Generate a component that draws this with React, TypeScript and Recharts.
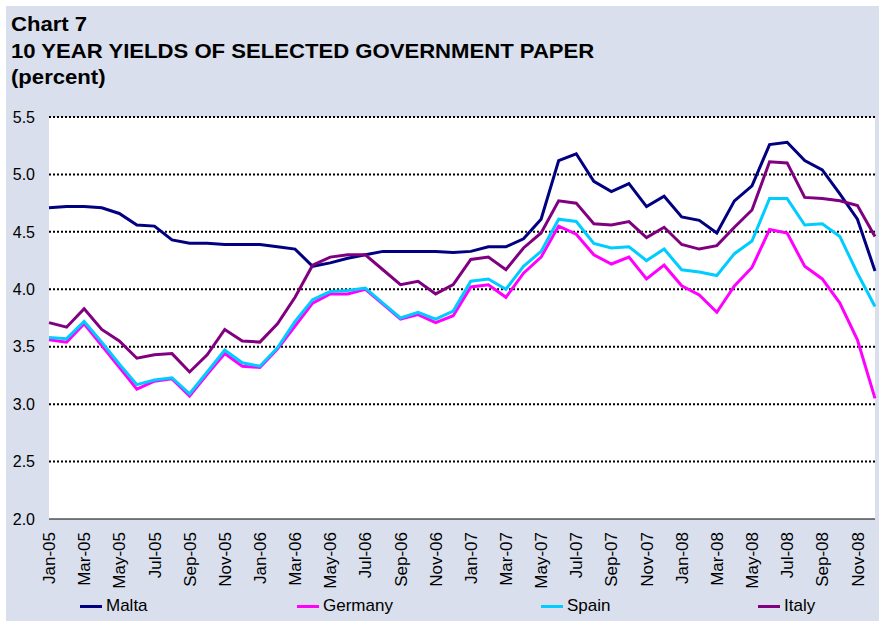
import React from 'react';
import { LineChart, Line, XAxis, YAxis, CartesianGrid } from 'recharts';

const months = [
  'Jan-05','Feb-05','Mar-05','Apr-05','May-05','Jun-05','Jul-05','Aug-05','Sep-05','Oct-05','Nov-05','Dec-05',
  'Jan-06','Feb-06','Mar-06','Apr-06','May-06','Jun-06','Jul-06','Aug-06','Sep-06','Oct-06','Nov-06','Dec-06',
  'Jan-07','Feb-07','Mar-07','Apr-07','May-07','Jun-07','Jul-07','Aug-07','Sep-07','Oct-07','Nov-07','Dec-07',
  'Jan-08','Feb-08','Mar-08','Apr-08','May-08','Jun-08','Jul-08','Aug-08','Sep-08','Oct-08','Nov-08','Dec-08',
];

const malta = [
  4.71, 4.72, 4.72, 4.71, 4.66, 4.56, 4.55, 4.43, 4.40, 4.40, 4.39, 4.39,
  4.39, 4.37, 4.35, 4.20, 4.23, 4.27, 4.30, 4.33, 4.33, 4.33, 4.33, 4.32,
  4.33, 4.37, 4.37, 4.44, 4.61, 5.12, 5.18, 4.94, 4.85, 4.92, 4.72, 4.81,
  4.63, 4.60, 4.49, 4.77, 4.90, 5.26, 5.28, 5.12, 5.04, 4.83, 4.61, 4.16,
];

const germany = [
  3.56, 3.54, 3.70, 3.51, 3.32, 3.13, 3.20, 3.22, 3.07, 3.26, 3.44, 3.33,
  3.32, 3.48, 3.68, 3.88, 3.96, 3.96, 4.00, 3.87, 3.74, 3.78, 3.71, 3.77,
  4.02, 4.04, 3.93, 4.14, 4.28, 4.55, 4.48, 4.30, 4.22, 4.28, 4.09, 4.21,
  4.03, 3.95, 3.80, 4.03, 4.19, 4.52, 4.49, 4.20, 4.09, 3.88, 3.56, 3.05,
];

const spain = [
  3.58, 3.57, 3.72, 3.54, 3.35, 3.17, 3.21, 3.23, 3.09, 3.28, 3.47, 3.36,
  3.33, 3.49, 3.72, 3.91, 3.98, 3.99, 4.01, 3.88, 3.75, 3.80, 3.74, 3.81,
  4.07, 4.09, 4.00, 4.20, 4.33, 4.61, 4.59, 4.40, 4.36, 4.37, 4.25, 4.35,
  4.17, 4.15, 4.12, 4.31, 4.42, 4.79, 4.79, 4.56, 4.57, 4.46, 4.14, 3.85,
];

const italy = [
  3.71, 3.67, 3.83, 3.65, 3.55, 3.40, 3.43, 3.44, 3.28, 3.43, 3.65, 3.55,
  3.54, 3.70, 3.93, 4.21, 4.28, 4.30, 4.30, 4.17, 4.04, 4.07, 3.96, 4.04,
  4.26, 4.28, 4.17, 4.36, 4.49, 4.77, 4.75, 4.57, 4.56, 4.59, 4.45, 4.54,
  4.39, 4.35, 4.38, 4.54, 4.69, 5.11, 5.10, 4.80, 4.79, 4.77, 4.73, 4.46,
];

const yTicks = [2.0, 2.5, 3.0, 3.5, 4.0, 4.5, 5.0, 5.5];

const series = [
  { key: 'Malta', values: malta, color: '#000080' },
  { key: 'Germany', values: germany, color: '#FF00FF' },
  { key: 'Spain', values: spain, color: '#00CCFF' },
  { key: 'Italy', values: italy, color: '#800080' },
];

const legendLeft = [80, 297, 541, 758];

const data = months.map((m, i) => {
  const row: Record<string, string | number> = { month: m };
  series.forEach((s) => {
    row[s.key] = s.values[i];
  });
  return row;
});

const FONT = '"Liberation Sans", Arial, sans-serif';

const XTick = (props: any) => {
  const { x, y, payload } = props;
  return (
    <text
      x={x}
      y={y}
      transform={`rotate(-90, ${x}, ${y})`}
      textAnchor="end"
      dy="0.36em"
      fontSize={17}
      fontFamily={FONT}
      fill="#000"
    >
      {payload.value}
    </text>
  );
};

export default function App() {
  return (
    <div style={{ position: 'absolute', left: 0, top: 0, width: 879, height: 621, background: '#fff', overflow: 'hidden' }}>
      <div style={{ position: 'absolute', left: 6, top: 6, width: 873, height: 615, background: '#D9DFEC' }} />
      <div
        style={{
          position: 'absolute',
          left: 11,
          top: 11,
          fontFamily: FONT,
          fontWeight: 'bold',
          fontSize: 20,
          lineHeight: '26.5px',
          color: '#000',
          transform: 'scaleX(1.105)',
          transformOrigin: 'left top',
          whiteSpace: 'nowrap',
        }}
      >
        <div>Chart 7</div>
        <div>10 YEAR YIELDS OF SELECTED GOVERNMENT PAPER</div>
        <div>(percent)</div>
      </div>
      <div style={{ position: 'absolute', left: 0, top: 0 }}>
        <LineChart
          width={879}
          height={621}
          data={data}
          margin={{ top: 117, right: 4, bottom: 42, left: 9 }}
        >
          <CartesianGrid
            vertical={false}
            horizontalValues={yTicks.slice(1)}
            stroke="#000"
            strokeWidth={2}
            strokeDasharray="2 2"
            fill="#fff"
            fillOpacity={1}
          />
          <XAxis
            dataKey="month"
            interval={1}
            tick={<XTick />}
            tickLine={false}
            tickSize={0}
            tickMargin={13}
            axisLine={{ stroke: '#000', strokeWidth: 1 }}
            height={60}
            padding={{ left: 0, right: 0 }}
          />
          <YAxis
            domain={[2, 5.5]}
            ticks={yTicks}
            tickFormatter={(v: number) => v.toFixed(1)}
            axisLine={false}
            tickLine={false}
            tickSize={0}
            tickMargin={14}
            width={40}
            tick={{ fontSize: 16, fontFamily: FONT, fill: '#000' }}
            interval={0}
          />
          {series.map((s) => (
            <Line
              key={s.key}
              type="linear"
              dataKey={s.key}
              stroke={s.color}
              strokeWidth={3}
              dot={false}
              activeDot={false}
              isAnimationActive={false}
            />
          ))}
        </LineChart>
      </div>
      {series.map((s, i) => (
        <div
          key={s.key}
          style={{
            position: 'absolute',
            left: legendLeft[i],
            top: 596,
            height: 20,
            display: 'flex',
            alignItems: 'center',
            fontFamily: FONT,
            fontSize: 17,
            color: '#000',
            whiteSpace: 'nowrap',
          }}
        >
          <span style={{ display: 'inline-block', width: 22, height: 3, background: s.color, marginRight: 4 }} />
          <span>{s.key}</span>
        </div>
      ))}
    </div>
  );
}
